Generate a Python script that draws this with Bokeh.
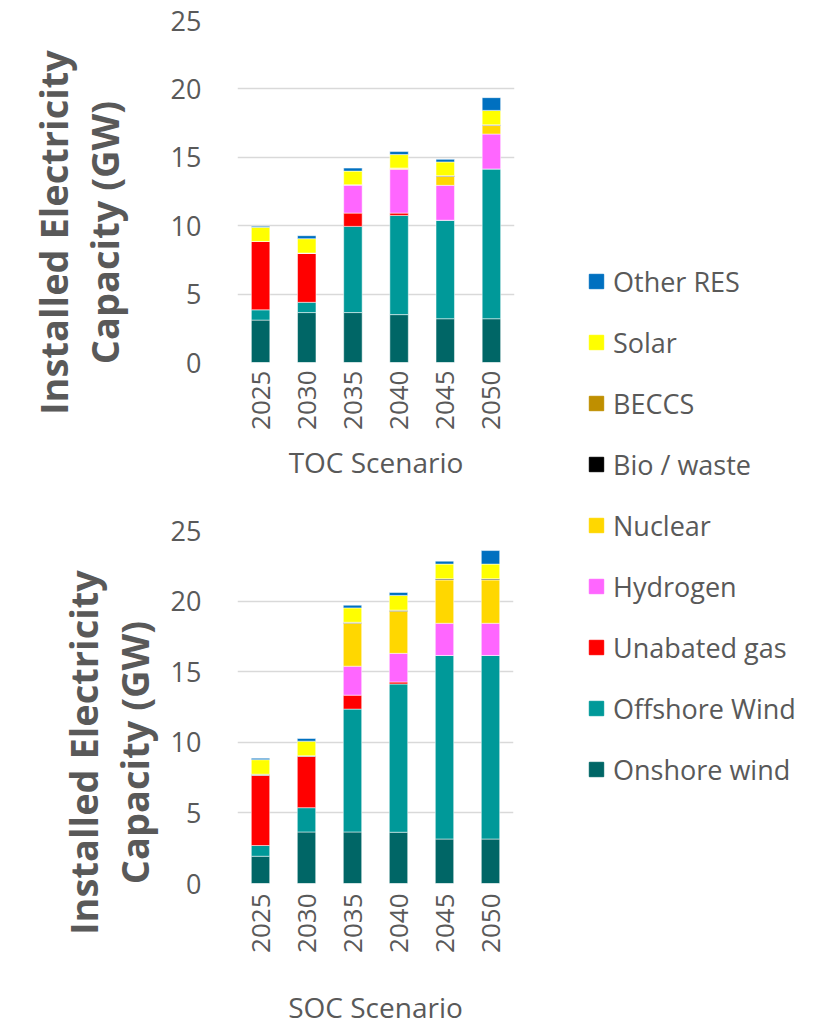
import math
from bokeh.plotting import figure
from bokeh.models import (ColumnDataSource, FactorRange, Range1d, FixedTicker,
                          Legend, LegendItem)
from bokeh.core.properties import value
from bokeh.layouts import row, column
from bokeh.embed import file_html
from bokeh.resources import INLINE

years = ["2025", "2030", "2035", "2040", "2045", "2050"]
series = ["Onshore wind", "Offshore Wind", "Unabated gas", "Hydrogen", "Nuclear",
          "Bio / waste", "BECCS", "Solar", "Other RES"]
colors = ["#006666", "#009999", "#FF0000", "#FF66FF", "#FFD700",
          "#000000", "#BF8F00", "#FFFF00", "#0070C0"]
y_ticks = [0, 5, 10, 15, 20, 25]
y_title_lines = ["Installed Electricity", "Capacity (GW)"]

# TOC Scenario (GW)
onshore_toc = [3.1, 3.65, 3.65, 3.5, 3.2, 3.2]
offshore_toc = [0.75, 0.75, 6.3, 7.25, 7.2, 10.95]
gas_toc = [5.0, 3.6, 0.97, 0.17, 0.0, 0.0]
hydrogen_toc = [0.0, 0.0, 2.07, 3.2, 2.55, 2.55]
nuclear_toc = [0.0, 0.0, 0.0, 0.1, 0.65, 0.62]
bio_toc = [0.0, 0.0, 0.0, 0.0, 0.06, 0.06]
beccs_toc = [0.0, 0.0, 0.0, 0.0, 0.0, 0.0]
solar_toc = [1.03, 1.05, 1.0, 0.98, 1.0, 1.05]
other_toc = [0.08, 0.22, 0.22, 0.22, 0.19, 0.93]

# SOC Scenario (GW)
onshore_soc = [1.93, 3.65, 3.65, 3.63, 3.15, 3.15]
offshore_soc = [0.76, 1.72, 8.7, 10.5, 13.0, 13.0]
gas_soc = [4.98, 3.63, 0.99, 0.14, 0.0, 0.0]
hydrogen_soc = [0.0, 0.0, 2.05, 2.03, 2.28, 2.28]
nuclear_soc = [0.0, 0.0, 3.04, 2.99, 3.07, 3.07]
bio_soc = [0.07, 0.05, 0.07, 0.07, 0.08, 0.08]
beccs_soc = [0.0, 0.0, 0.0, 0.0, 0.0, 0.0]
solar_soc = [1.03, 1.03, 1.02, 1.04, 1.04, 1.04]
other_soc = [0.1, 0.19, 0.19, 0.21, 0.21, 0.96]

toc = [onshore_toc, offshore_toc, gas_toc, hydrogen_toc, nuclear_toc,
       bio_toc, beccs_toc, solar_toc, other_toc]
soc = [onshore_soc, offshore_soc, gas_soc, hydrogen_soc, nuclear_soc,
       bio_soc, beccs_soc, solar_soc, other_soc]

GREY = "#595959"
FONT = "Open Sans"
H = 1022


def make_chart(values, xtitle, fw, fh, left, top, bottom, lab_std, title_std):
    data = {"year": years}
    for name, vals in zip(series, values):
        data[name] = vals
    src = ColumnDataSource(data)
    p = figure(x_range=FactorRange(*years, range_padding=0),
               y_range=Range1d(0, 25),
               frame_width=fw, frame_height=fh,
               min_border_left=left, min_border_right=10,
               min_border_top=top, min_border_bottom=bottom,
               output_backend="svg", toolbar_location=None,
               background_fill_color="white", border_fill_color="white")
    p.outline_line_color = None
    p.vbar_stack(series, x="year", width=0.4, source=src, color=colors,
                 line_color="white", line_alpha=0.5, line_width=1)
    p.xgrid.grid_line_color = None
    p.ygrid.grid_line_color = "#d9d9d9"
    p.ygrid.grid_line_width = 1.5
    p.yaxis.ticker = FixedTicker(ticks=y_ticks)
    for ax in (p.xaxis, p.yaxis):
        ax.axis_line_color = None
        ax.major_tick_line_color = None
        ax.minor_tick_line_color = None
        ax.major_tick_out = 0
        ax.major_label_text_color = GREY
        ax.major_label_text_font = FONT
    p.yaxis.major_label_text_font_size = "27px"
    p.yaxis.major_label_standoff = 36
    p.xaxis.major_label_text_font_size = "26px"
    p.xaxis.major_label_orientation = math.pi / 2
    p.xaxis.major_label_standoff = lab_std
    p.xaxis.axis_label = xtitle
    p.xaxis.axis_label_text_font = FONT
    p.xaxis.axis_label_text_font_size = "28px"
    p.xaxis.axis_label_text_font_style = "normal"
    p.xaxis.axis_label_text_color = GREY
    p.xaxis.axis_label_standoff = title_std
    return p


# y-axis titles, drawn in a narrow strip left of the charts (1 unit = 1 px)
TW = 160
tfig = figure(width=TW, height=H, x_range=Range1d(0, TW), y_range=Range1d(0, H),
              output_backend="svg", toolbar_location=None,
              min_border=0, min_border_left=0, min_border_right=0,
              min_border_top=0, min_border_bottom=0)
tfig.axis.visible = False
tfig.grid.visible = False
tfig.outline_line_color = None
tsrc = ColumnDataSource(dict(
    x=[52, 103, 82, 133],
    y=[H - 232, H - 232, H - 752, H - 752],
    text=y_title_lines + y_title_lines))
tfig.text(x="x", y="y", text="text", source=tsrc, angle=math.pi / 2,
          text_align="center", text_baseline="middle",
          text_font=value(FONT), text_font_style="bold",
          text_font_size="38px", text_color=GREY)

p1 = make_chart(toc, "TOC Scenario", 277, 342, 232 - TW, 20, 138, 8, 10)
p2 = make_chart(soc, "SOC Scenario", 276, 353, 237 - TW, 30, 139, 10, 32)

p3 = figure(width=305, height=H, x_range=Range1d(0, 1), y_range=Range1d(0, 1),
            output_backend="svg", toolbar_location=None,
            min_border=0, min_border_left=0, min_border_right=0,
            min_border_top=0, min_border_bottom=0)
p3.axis.visible = False
p3.grid.visible = False
p3.outline_line_color = None
items = []
for name, c in zip(series, colors):
    # placeholder bar outside the visible range, only used for the legend swatch
    r = p3.vbar(x=[-5], top=[-5], bottom=[-6], width=0.5, color=c)
    items.append(LegendItem(label=name, renderers=[r]))
items.reverse()
legend = Legend(items=items, location=(64, 233), orientation="vertical",
                glyph_width=18, glyph_height=18, label_height=40, spacing=21,
                label_standoff=8, padding=0, margin=0,
                border_line_color=None, background_fill_alpha=0,
                label_text_font=FONT, label_text_font_size="27px",
                label_text_color=GREY)
p3.add_layout(legend)

layout = row(tfig, column(p1, p2), p3)
open("out.html", "w").write(file_html(layout, INLINE))
